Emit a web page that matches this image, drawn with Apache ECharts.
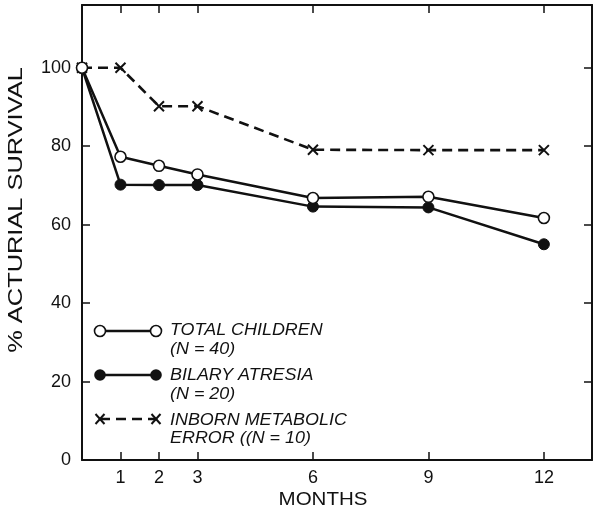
<!DOCTYPE html>
<html><head><meta charset="utf-8">
<script src="https://cdn.jsdelivr.net/npm/echarts@6/dist/echarts.min.js"></script>
<style>html,body{margin:0;padding:0;background:#fff}#c{width:600px;height:517px}</style>
</head><body><div id="c"></div>
<script>
const months = [0, 1, 2, 3, 6, 9, 12];
const totalChildren = [100, 77.3, 75, 72.8, 66.8, 67.1, 61.7];
const biliaryAtresia = [100, 70.2, 70.1, 70.1, 64.6, 64.4, 55];
const inbornError = [100, 100, 90.2, 90.2, 79.1, 79, 79];
const xTicks = [1, 2, 3, 6, 9, 12];
const yTicks = [0, 20, 40, 60, 80, 100];
const legendLines = [
  ['TOTAL CHILDREN', '(N = 40)'],
  ['BILARY ATRESIA', '(N = 20)'],
  ['INBORN METABOLIC', 'ERROR ((N = 10)']
];
const yTitle = '% ACTURIAL SURVIVAL';
const xTitle = 'MONTHS';

const FONT = '"Liberation Sans", Arial, sans-serif';
const ink = '#111';
const pair = (xs, ys) => xs.map((x, i) => [x, ys[i]]);
const xMark = 'path://M0,0L10,10M10,0L0,10';

const chart = echarts.init(document.getElementById('c'), null, {renderer: 'canvas'});

const axisCommon = {
  axisLine: {show: true, onZero: false, lineStyle: {color: ink, width: 2}},
  axisTick: {show: true, inside: true, length: 8, lineStyle: {color: ink, width: 1.5}},
  splitLine: {show: false}
};

const legendY = [331, 375, 419];
const textY = [[331, 350], [376, 395], [421, 439]];
const graphics = [];
legendLines.forEach((t, i) => {
  const y = legendY[i];
  graphics.push({type: 'line', shape: {x1: 100, y1: y, x2: 156, y2: y},
    style: {stroke: ink, lineWidth: 2.6, lineDash: i === 2 ? [10, 6] : null}});
  if (i === 0) {
    [100, 156].forEach(x => graphics.push({type: 'circle', shape: {cx: x, cy: y, r: 5.5}, style: {fill: '#fff', stroke: ink, lineWidth: 1.6}}));
  } else if (i === 1) {
    [100, 156].forEach(x => graphics.push({type: 'circle', shape: {cx: x, cy: y, r: 5.8}, style: {fill: ink}}));
  } else {
    [100, 156].forEach(x => graphics.push({type: 'group', children: [
      {type: 'line', shape: {x1: x - 4.5, y1: y - 5, x2: x + 4.5, y2: y + 5}, style: {stroke: ink, lineWidth: 2}},
      {type: 'line', shape: {x1: x + 4.5, y1: y - 5, x2: x - 4.5, y2: y + 5}, style: {stroke: ink, lineWidth: 2}}
    ]}));
  }
  [0, 1].forEach(k => graphics.push({type: 'text', x: 170, y: textY[i][k], scaleX: 1.12,
    style: {text: t[k], font: 'italic 16px ' + FONT, fill: ink, textVerticalAlign: 'middle', textAlign: 'left'}}));
});
graphics.push({type: 'text', x: 16, y: 210, rotation: Math.PI / 2, scaleX: 1.27,
  style: {text: yTitle, font: '20px ' + FONT, fill: ink, textAlign: 'center', textVerticalAlign: 'middle'}});
graphics.push({type: 'text', x: 323, y: 500, scaleX: 1.08,
  style: {text: xTitle, font: '19px ' + FONT, fill: ink, textAlign: 'center', textVerticalAlign: 'middle'}});

chart.setOption({
  animation: false,
  backgroundColor: '#fff',
  grid: {left: 82, right: 8, top: 5, bottom: 57},
  xAxis: [
    Object.assign({}, axisCommon, {
      type: 'value', min: 0, max: 13.25, position: 'bottom',
      axisTick: Object.assign({}, axisCommon.axisTick, {customValues: xTicks}),
      axisLabel: {customValues: xTicks, fontFamily: FONT, fontSize: 18, color: ink, margin: 9}
    }),
    Object.assign({}, axisCommon, {
      type: 'value', min: 0, max: 13.25, position: 'top',
      axisTick: Object.assign({}, axisCommon.axisTick, {customValues: xTicks}),
      axisLabel: {show: false}
    })
  ],
  yAxis: [
    Object.assign({}, axisCommon, {
      type: 'value', min: 0, max: 116, position: 'left',
      axisTick: Object.assign({}, axisCommon.axisTick, {customValues: yTicks}),
      axisLabel: {customValues: yTicks, fontFamily: FONT, fontSize: 18, color: ink, margin: 11}
    }),
    Object.assign({}, axisCommon, {
      type: 'value', min: 0, max: 116, position: 'right',
      axisTick: Object.assign({}, axisCommon.axisTick, {customValues: yTicks}),
      axisLabel: {show: false}
    })
  ],
  graphic: graphics,
  series: [
    {type: 'line', name: 'Inborn', data: pair(months, inbornError), symbol: xMark, symbolSize: 10,
      lineStyle: {color: ink, width: 2.6, type: [10, 6]},
      itemStyle: {color: 'none', borderColor: ink, borderWidth: 2}, z: 3},
    {type: 'line', name: 'Total', data: pair(months, totalChildren), symbol: 'circle', symbolSize: 11,
      lineStyle: {color: ink, width: 2.5},
      itemStyle: {color: '#fff', borderColor: ink, borderWidth: 1.6}, z: 5},
    {type: 'line', name: 'Biliary', data: pair(months, biliaryAtresia), symbol: 'circle', symbolSize: 11,
      lineStyle: {color: ink, width: 2.5},
      itemStyle: {color: ink, borderColor: ink, borderWidth: 1}, z: 4}
  ]
});
</script></body></html>
